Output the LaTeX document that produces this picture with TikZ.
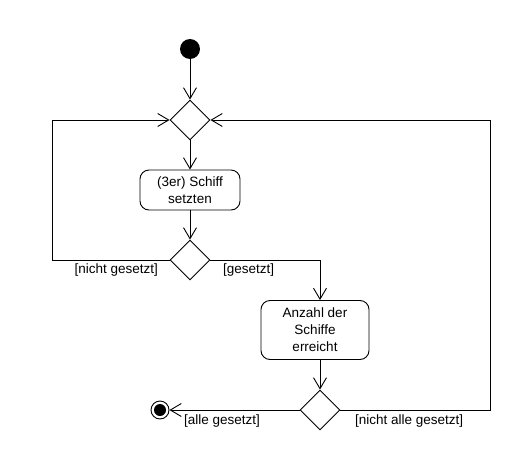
\documentclass[tikz,border=0pt]{standalone}
\usepackage{fontspec}
\setmainfont{Liberation Sans}
\usetikzlibrary{arrows.meta,shapes.geometric,calc}
\begin{document}
\begin{tikzpicture}[x=1pt,y=-1pt,
  every node/.style={font=\fontsize{13.5}{17}\selectfont},
  line/.style={line width=0.9pt},
  flow/.style={line, -{Straight Barb[length=11pt,width=13pt,line width=0.9pt]}},
  decision/.style={draw, line width=0.9pt, diamond, minimum width=40pt, minimum height=40pt, inner sep=0pt, fill=white},
  action/.style={draw, line width=0.9pt, rounded corners=9pt, align=center, inner sep=0pt, fill=white},
  guard/.style={inner sep=0pt}
]
\useasboundingbox (0,0) rectangle (530,450);
\node[circle, fill=black, minimum size=20pt, inner sep=0pt] (start) at (190,49) {};
\node[decision] (d1) at (190,120) {};
\node[action, minimum width=100pt, minimum height=40pt] (a1) at (190,190) {(3er) Schiff\\setzten};
\node[decision] (d2) at (190,260) {};
\node[action, minimum width=108pt, minimum height=59pt] (a2) at (315,330) {Anzahl der\\Schiffe\\erreicht};
\node[decision] (d3) at (320,410) {};
\node[circle, draw, line width=0.9pt, minimum size=18pt, inner sep=0pt] (end) at (160,410) {};
\fill (end.center) circle (6pt);

\coordinate (lc1) at (52,260);
\coordinate (lc2) at (52,120);
\coordinate (rc1) at (490,410);
\coordinate (rc2) at (490,120);

\draw[flow] (start) -- (d1.north);
\draw[flow] (d1.south) -- (a1.north);
\draw[flow] (a1.south) -- (d2.north);
\draw[line] (d2.west) -- (lc1) -- (lc2);
\draw[flow] (lc2) -- (d1.west);
\draw[flow] (d2.east) -| ([xshift=5pt]a2.north);
\draw[flow] ([xshift=5pt]a2.south) -- (d3.north);
\draw[flow] (d3.west) -- (end.east);
\draw[line] (d3.east) -- (rc1) -- (rc2);
\draw[flow] (rc2) -- (d1.east);

\node[guard, anchor=east] (g1) at (158,270) {[nicht gesetzt]};
\node[guard, anchor=west] (g2) at (223,270) {[gesetzt]};
\node[guard, anchor=west] (g3) at (184,421) {[alle gesetzt]};
\node[guard, anchor=west] (g4) at (355,421) {[nicht alle gesetzt]};
\end{tikzpicture}
\end{document}
